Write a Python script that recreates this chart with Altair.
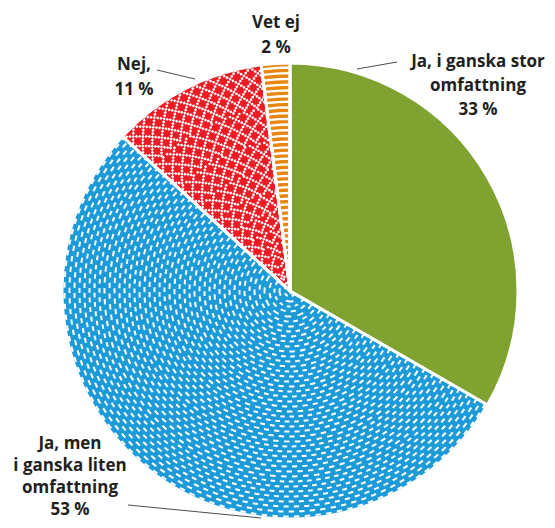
import altair as alt
import pandas as pd

# ---- data -------------------------------------------------------------
keys = ["stor", "liten", "nej", "vetej"]
categories = [
    "Ja, i ganska stor omfattning",
    "Ja, men i ganska liten omfattning",
    "Nej",
    "Vet ej",
]
values = [33, 53, 11, 2]
label_lines = [
    "Ja, i ganska stor\nomfattning",
    "Ja, men\ni ganska liten\nomfattning",
    "Nej,",
    "Vet ej",
]
colors = ["#7FA231", "#1D9BD8", "#ED1C24", "#E88610"]

df = pd.DataFrame({
    "key": keys,
    "category": categories,
    "value": values,
    "order": list(range(len(keys))),
    "txt": [f"{l}\n{v} %" for l, v in zip(label_lines, values)],
})

# ---- geometry / style (chart coordinates; page margin is 8px) -----------
M = 8
CX, CY, R = 290 - M, 291 - M, 228
FONT = "Open Sans"
TXT_COLOR = "#231F20"


def arc_enc(radius):
    return dict(
        theta=alt.Theta("start:Q", scale=None),
        theta2=alt.Theta2("end:Q"),
        radius=alt.value(radius),
        radius2=alt.value(0),
        x=alt.value(CX),
        y=alt.value(CY),
    )


layers = []

# slices
layers.append(
    alt.Chart().mark_arc(stroke="white", strokeWidth=3).encode(
        color=alt.Color("key:N", scale=alt.Scale(domain=keys, range=colors), legend=None),
        **arc_enc(R),
    )
)

band_edges = [0, 14, 26, 38, 50, 64, 80, 100, 124, 152, 186, 232]


def band_ref(r):
    for lo, hi in zip(band_edges[:-1], band_edges[1:]):
        if lo <= r < hi:
            return (lo + hi) / 2
    return r


def dash_pattern(centers, d, P):
    """Stroke-dash array + offset putting dots of length d at the given
    centre positions (mod P)."""
    segs = sorted(((c - d / 2) % P, (c - d / 2) % P + d) for c in centers)
    merged = []
    for a, b in segs:
        if merged and a <= merged[-1][1]:
            merged[-1][1] = max(merged[-1][1], b)
        else:
            merged.append([a, b])
    if len(merged) > 1 and merged[-1][1] >= merged[0][0] + P:
        merged[0][0] = merged[-1][0] - P
        merged.pop()
    arr = []
    for i, (a, b) in enumerate(merged):
        nxt = merged[(i + 1) % len(merged)][0] + (P if i == len(merged) - 1 else 0)
        arr += [round(b - a, 3), round(max(nxt - b, 0.01), 3)]
    offset = round((-merged[0][0]) % P, 3)
    return arr, offset


def ring(key, r, width, pattern=None):
    kw = dict(filled=False, stroke="white", strokeWidth=width)
    if pattern is not None:
        kw["strokeDash"] = pattern[0]
        kw["strokeDashOffset"] = pattern[1]
    return (
        alt.Chart()
        .mark_arc(**kw)
        .encode(**arc_enc(r))
        .transform_filter(alt.datum.key == key)
    )


# blue: staggered white dashes
k = 0
r = R - 2.5
while r > 4:
    s = r / band_ref(r)
    P = 10 * s
    d = 5 * s
    c = (0.25 + 0.5 * (k % 2)) * P
    layers.append(ring("liten", r, 2, dash_pattern([c], d, P)))
    r -= 5
    k += 1

# red: diamond lattice made of dotted rows
k = 0
PL = 13.5
h = PL / 6
r = R - 1.2
while r > 7:
    s = r / band_ref(r)
    yoff = (k * h) % PL
    centers = [yoff * s, ((PL - yoff) % PL) * s]
    P = PL * s
    layers.append(ring("nej", r, 2.3, dash_pattern(centers, min(2.4, P * 0.4), P)))
    r -= h
    k += 1

# orange: white stripes
r = R - 4.5
while r > 4:
    layers.append(ring("vetej", r, 2.3))
    r -= 5.7


# labels
def label(key, x, first_baseline, lh):
    return (
        alt.Chart()
        .mark_text(
            font=FONT, fontSize=17, fontWeight="bold", color=TXT_COLOR,
            align="center", baseline="top", lineBreak="\n", lineHeight=lh,
        )
        .encode(text="txt:N", x=alt.value(x - M), y=alt.value(first_baseline - M - 13))
        .transform_filter(alt.datum.key == key)
    )


def leader(key, x1, y1, x2, y2):
    return (
        alt.Chart()
        .mark_rule(color="#4D4D4D", strokeWidth=1)
        .encode(
            x=alt.value(x1 - M), y=alt.value(y1 - M),
            x2=alt.value(x2 - M), y2=alt.value(y2 - M),
        )
        .transform_filter(alt.datum.key == key)
    )


layers += [
    leader("stor", 357, 69, 397, 62),
    leader("nej", 157, 70, 195, 79),
    leader("liten", 128, 505, 261, 518),
    label("stor", 478, 67, 24),
    label("liten", 70, 449, 22),
    label("nej", 134, 70, 25),
    label("vetej", 276, 28, 25),
]

chart = (
    alt.layer(*layers, data=df)
    .transform_joinaggregate(total="sum(value)")
    .transform_window(cum="sum(value)", sort=[alt.SortField("order")], frame=[None, 0])
    .transform_calculate(
        end="2*PI*datum.cum/datum.total",
        start="2*PI*(datum.cum-datum.value)/datum.total",
    )
    .properties(width=539, height=512, padding=0, autosize=alt.AutoSizeParams(type="none"))
    .configure_view(stroke=None)
)

chart.save("out.html", embed_options={"renderer": "svg", "actions": False})
